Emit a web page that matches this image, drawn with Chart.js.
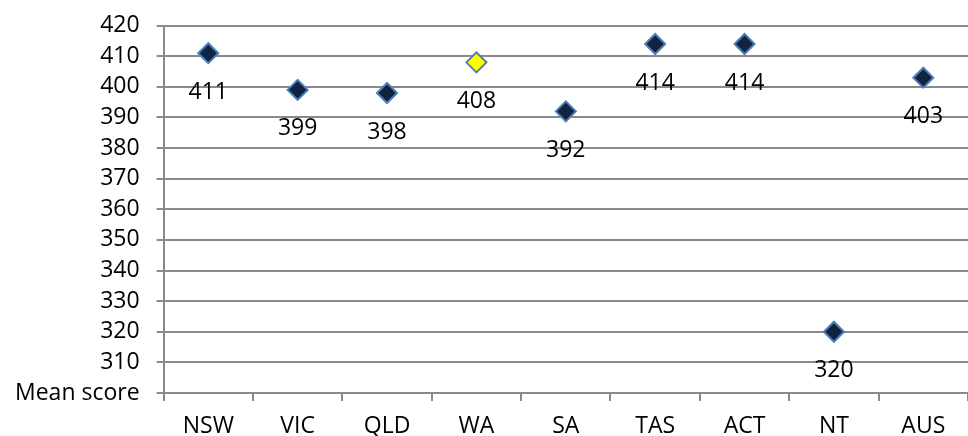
<!DOCTYPE html>
<html lang="en">
<head>
    <meta charset="UTF-8">
    <title>Mean score by state</title>
    <style>
        html, body {
            margin: 0;
            padding: 0;
            background: #fff;
            overflow: hidden;
        }
        #wrap {
            width: 980px;
            height: 436px;
        }
    </style>
</head>
<body>
    <div id="wrap">
        <canvas id="scoreChart" width="980" height="436"></canvas>
    </div>

    <script src="https://cdn.jsdelivr.net/npm/chart.js"></script>
    <script>
        // Data
        const states = ['NSW', 'VIC', 'QLD', 'WA', 'SA', 'TAS', 'ACT', 'NT', 'AUS'];
        const meanScores = [411, 399, 398, 408, 392, 414, 414, 320, 403];
        const yTicks = [300, 310, 320, 330, 340, 350, 360, 370, 380, 390, 400, 410, 420];
        const highlighted = 'WA';

        const gridColour = '#8a8a8a';
        const fontFamily = '"Open Sans", sans-serif';

        const fills = states.map(s => s === highlighted ? '#ffff00' : '#10243f');

        // Value labels under each marker
        const valueLabels = {
            id: 'valueLabels',
            afterDatasetsDraw(chart) {
                const ctx = chart.ctx;
                const meta = chart.getDatasetMeta(0);
                ctx.save();
                ctx.font = '23px ' + fontFamily;
                ctx.fillStyle = '#000';
                ctx.textAlign = 'center';
                ctx.textBaseline = 'middle';
                meta.data.forEach((pt, i) => {
                    ctx.fillText(String(meanScores[i]), pt.x, pt.y + 39);
                });
                ctx.restore();
            }
        };

        const ctx = document.getElementById('scoreChart').getContext('2d');
        new Chart(ctx, {
            type: 'line',
            data: {
                labels: states,
                datasets: [{
                    data: meanScores,
                    showLine: false,
                    pointStyle: 'rectRot',
                    pointRadius: 10,
                    pointHoverRadius: 10,
                    pointBackgroundColor: fills,
                    pointBorderColor: '#4a7ebb',
                    pointBorderWidth: 2
                }]
            },
            options: {
                responsive: false,
                animation: false,
                layout: {
                    padding: { top: 0, left: -2, right: 4, bottom: -16 }
                },
                plugins: {
                    legend: { display: false },
                    tooltip: { enabled: false }
                },
                scales: {
                    x: {
                        offset: true,
                        grid: {
                            offset: true,
                            drawOnChartArea: false,
                            drawTicks: true,
                            tickLength: 8,
                            color: gridColour,
                            lineWidth: 2
                        },
                        border: { color: gridColour, width: 2 },
                        ticks: {
                            color: '#000',
                            padding: 14,
                            maxRotation: 0,
                            font: { family: fontFamily, size: 23, lineHeight: 1 }
                        }
                    },
                    y: {
                        min: 300,
                        max: 420,
                        afterBuildTicks(scale) {
                            scale.ticks = yTicks.map(v => ({ value: v }));
                        },
                        grid: {
                            color: gridColour,
                            lineWidth: 2,
                            tickLength: 7
                        },
                        border: { color: gridColour, width: 2 },
                        ticks: {
                            color: '#000',
                            padding: 17,
                            autoSkip: false,
                            font: { family: fontFamily, size: 23, lineHeight: 0.75 },
                            callback: v => v === 300 ? 'Mean score' : v
                        }
                    }
                }
            },
            plugins: [valueLabels]
        });
    </script>
</body>
</html>
